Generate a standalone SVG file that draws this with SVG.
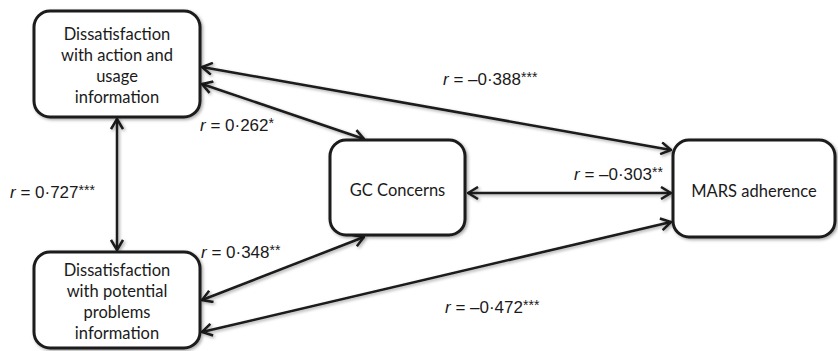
<svg xmlns="http://www.w3.org/2000/svg" width="838" height="351" viewBox="0 0 838 351">
<style>
.box{fill:#fff;stroke:#1a1a1a;stroke-width:3}
.node{font-family:Lato,"Open Sans",sans-serif;font-size:16.5px;fill:#1a1a1a;text-anchor:middle}
.conn{stroke:#1a1a1a;stroke-width:2.5;fill:none;marker-start:url(#ah);marker-end:url(#ah)}
.lbl{font-family:"Liberation Sans",Arial,sans-serif;font-size:17px;fill:#1a1a1a}
.sup{font-size:14px}
</style>
<defs>
<marker id="ah" markerUnits="userSpaceOnUse" viewBox="0 0 12 14" refX="11" refY="7" markerWidth="12" markerHeight="14" orient="auto-start-reverse">
<path d="M1,1 L11,7 L1,13" fill="none" stroke="#1a1a1a" stroke-width="2.5" stroke-linejoin="miter"/>
</marker>
<filter id="sh" x="-10%" y="-10%" width="130%" height="130%">
<feDropShadow dx="1.5" dy="1.5" stdDeviation="1.5" flood-color="#000" flood-opacity="0.35"/>
</filter>
</defs>
<g id="connectors" filter="url(#sh)">
<line class="conn" x1="117" y1="119" x2="117" y2="250"/>
<line class="conn" x1="202" y1="67" x2="671" y2="150"/>
<line class="conn" x1="202" y1="84" x2="364" y2="139"/>
<line class="conn" x1="468" y1="193" x2="671" y2="193"/>
<line class="conn" x1="202" y1="300" x2="364" y2="237"/>
<line class="conn" x1="202" y1="332" x2="671" y2="222"/>
</g>
<g id="n1">
<rect class="box" x="34" y="11" width="166" height="106" rx="16" filter="url(#sh)"/>
<text class="node"><tspan x="117" y="40">Dissatisfaction</tspan><tspan x="117" y="61">with action and</tspan><tspan x="117" y="82">usage</tspan><tspan x="117" y="103">information</tspan></text>
</g>
<g id="n2">
<rect class="box" x="34" y="252" width="166" height="96" rx="16" filter="url(#sh)"/>
<text class="node"><tspan x="117" y="276">Dissatisfaction</tspan><tspan x="117" y="297">with potential</tspan><tspan x="117" y="318">problems</tspan><tspan x="117" y="339">information</tspan></text>
</g>
<g id="n3">
<rect class="box" x="330" y="140" width="135" height="95" rx="16" filter="url(#sh)"/>
<text class="node" x="397.5" y="196">GC Concerns</text>
</g>
<g id="n4">
<rect class="box" x="673" y="140" width="162" height="97" rx="16" filter="url(#sh)"/>
<text class="node" x="754" y="197">MARS adherence</text>
</g>
<g id="labels">
<text class="lbl" x="443" y="85"><tspan font-style="italic">r</tspan> = –0·388<tspan class="sup" dy="-3">***</tspan></text>
<text class="lbl" x="200" y="131"><tspan font-style="italic">r</tspan> = 0·262<tspan class="sup" dy="-3">*</tspan></text>
<text class="lbl" x="10" y="198"><tspan font-style="italic">r</tspan> = 0·727<tspan class="sup" dy="-3">***</tspan></text>
<text class="lbl" x="201" y="258"><tspan font-style="italic">r</tspan> = 0·348<tspan class="sup" dy="-3">**</tspan></text>
<text class="lbl" x="574" y="180"><tspan font-style="italic">r</tspan> = –0·303<tspan class="sup" dy="-3">**</tspan></text>
<text class="lbl" x="445" y="313"><tspan font-style="italic">r</tspan> = –0·472<tspan class="sup" dy="-3">***</tspan></text>
</g>
</svg>
